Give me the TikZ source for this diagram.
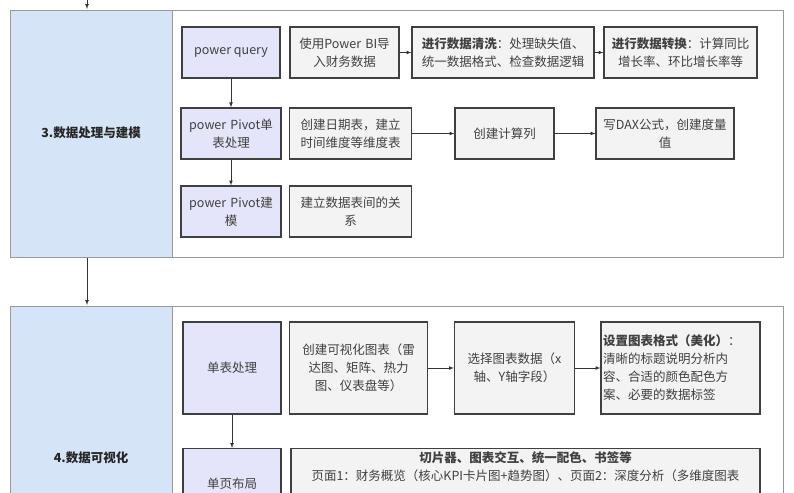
\documentclass[tikz,border=0pt]{standalone}
\usepackage{fontspec}
\setmainfont{Noto Sans CJK SC}
\definecolor{lblue}{RGB}{214,228,248}
\definecolor{lpur}{RGB}{228,228,250}
\definecolor{lgray}{RGB}{243,243,243}
\begin{document}
\begin{tikzpicture}[x=1pt,y=-1pt,
  box/.style={draw=black!75,line width=1.2pt,fill=lgray,text=black!75,font=\fontsize{12.5}{18}\selectfont,align=center,inner sep=2pt},
  pbox/.style={box,fill=lpur},
  arr/.style={-latex,line width=0.7pt,black!80},
  sec/.style={draw=black!40,line width=0.8pt},
  lab/.style={font=\bfseries\fontsize{12.5}{15}\selectfont,text=black!85}]
\useasboundingbox (0,0) rectangle (794,492);
\begin{scope}
\clip (0,0) rectangle (794,492);
% section 3
\fill[white] (10,10) rectangle (783,257);
\fill[lblue] (10,10) rectangle (172,257);
\draw[sec] (10,10) rectangle (783,257);
\draw[sec] (172,10) -- (172,257);
\node[lab] (s3) at (91,133) {3.数据处理与建模};
% section 4
\fill[white] (10,306) rectangle (783,500);
\fill[lblue] (10,306) rectangle (172,500);
\draw[sec] (10,306) rectangle (783,500);
\draw[sec] (172,306) -- (172,500);
\node[lab] (s4) at (91,458) {4.数据可视化};
\coordinate (t0) at (87,0);
\coordinate (t1) at (87,9);
\draw[arr] (t0) -- (t1);
\coordinate (m0) at (87,258);
\coordinate (m1) at (87,305);
\draw[arr] (m0) -- (m1);

% row 1
\node[pbox,minimum width=98pt,minimum height=51pt] (pq) at (231,52.5) {power query};
\node[box,minimum width=109pt,minimum height=51pt,text width=105pt] (a1) at (344.5,52.5) {使用Power BI导\\入财务数据};
\node[box,minimum width=180pt,minimum height=51pt,text width=178pt] (a2) at (503,52.5) {\textbf{进行数据清洗}：处理缺失值、\\统一数据格式、检查数据逻辑};
\node[box,minimum width=151pt,minimum height=51pt,text width=149pt] (a3) at (680.5,52.5) {\textbf{进行数据转换}：计算同比\\增长率、环比增长率等};
\draw[arr] (a1) -- (a2);
\draw[arr] (a2) -- (a3);
% row 2
\node[pbox,minimum width=98pt,minimum height=51pt,text width=96pt] (pp) at (231,133.5) {power Pivot单\\表处理};
\node[box,minimum width=121pt,minimum height=51pt,text width=118pt] (b1) at (350.5,133.5) {创建日期表，建立\\时间维度等维度表};
\node[box,minimum width=99pt,minimum height=51pt] (b2) at (504.5,133.5) {创建计算列};
\node[box,minimum width=138pt,minimum height=51pt,text width=134pt] (b3) at (665,133.5) {写DAX公式，创建度量\\值};
\draw[arr] (b1) -- (b2);
\draw[arr] (b2) -- (b3);
\draw[arr] (pq) -- (pp);
% row 3
\node[pbox,minimum width=98pt,minimum height=51pt,text width=96pt] (pm) at (231,211.5) {power Pivot建\\模};
\node[box,minimum width=121pt,minimum height=51pt,text width=118pt] (c1) at (350.5,211.5) {建立数据表间的关\\系};
\draw[arr] (pp) -- (pm);

% section 4 row 1
\node[pbox,minimum width=98pt,minimum height=92pt] (d0) at (232,368) {单表处理};
\node[box,minimum width=137pt,minimum height=92pt,text width=134pt] (d1) at (358.5,368) {创建可视化图表（雷\\达图、矩阵、热力\\图、仪表盘等）};
\node[box,minimum width=119pt,minimum height=92pt,text width=116pt] (d2) at (514.5,368) {选择图表数据（x\\轴、Y轴字段）};
\node[box,minimum width=159pt,minimum height=92pt,text width=155pt,align=left] (d3) at (680.5,368) {\textbf{设置图表格式（美化）}：\\清晰的标题说明分析内\\容、合适的颜色配色方\\案、必要的数据标签};
\draw[arr] (d1) -- (d2);
\draw[arr] (d2) -- (d3);
% row 2
\node[pbox,minimum width=98pt,minimum height=70pt,anchor=north] (e0) at (232,448) {单页布局};
\node[box,minimum width=469pt,text width=465pt,anchor=north,align=center,inner ysep=3pt] (e1) at (525.5,448) {\textbf{切片器、图表交互、统一配色、书签等}\\页面1：财务概览（核心KPI卡片图+趋势图）、页面2：深度分析（多维度图表\\\mbox{}\\\mbox{}};
\draw[arr] (d0) -- (e0);
\end{scope}
\end{tikzpicture}
\end{document}
